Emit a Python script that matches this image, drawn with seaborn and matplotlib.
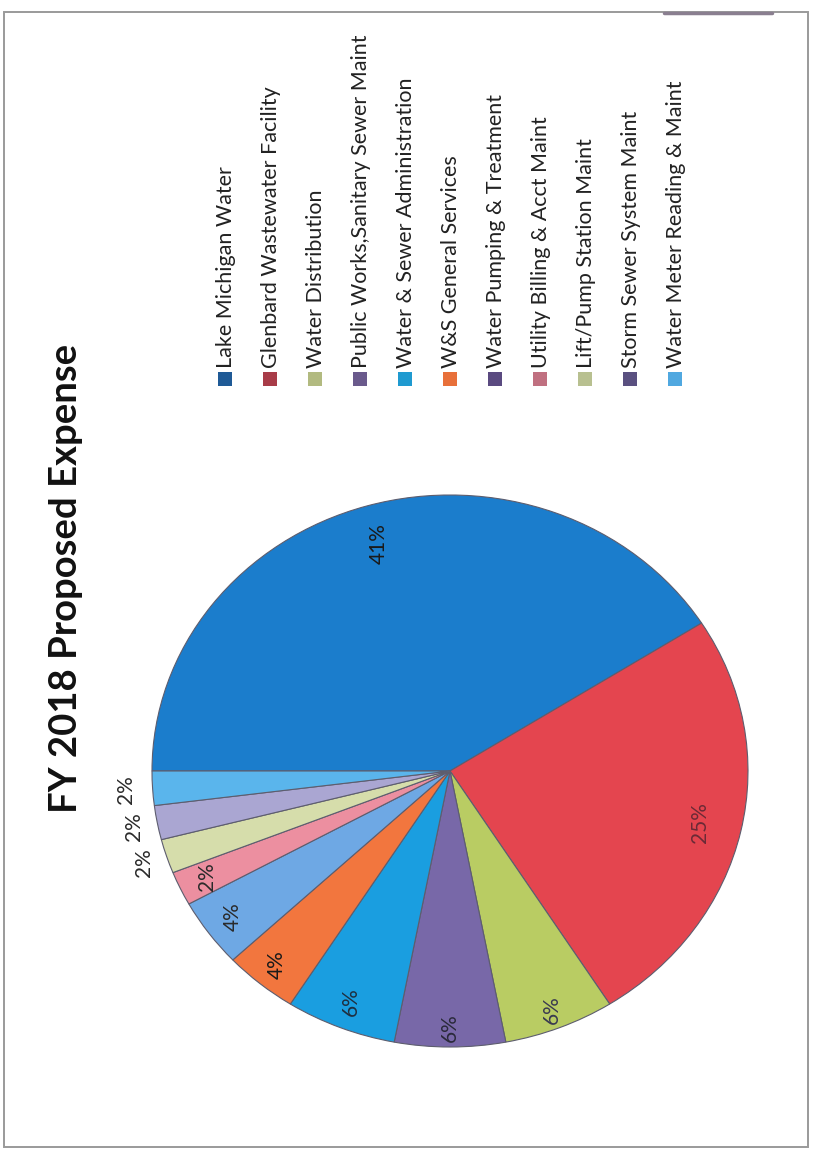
import numpy as np
import matplotlib
matplotlib.use("Agg")
import matplotlib.pyplot as plt
from matplotlib.patches import Rectangle
from matplotlib.lines import Line2D
import seaborn as sns

# ---- data -------------------------------------------------------------
title = "FY 2018 Proposed Expense"
categories = [
    "Lake Michigan Water",
    "Glenbard Wastewater Facility",
    "Water Distribution",
    "Public Works,Sanitary Sewer Maint",
    "Water & Sewer Administration",
    "W&S General Services",
    "Water Pumping & Treatment",
    "Utility Billing & Acct Maint",
    "Lift/Pump Station Maint",
    "Storm Sewer System Maint",
    "Water Meter Reading & Maint",
]
shares = [41, 25, 6, 6, 6, 4, 4, 2, 2, 2, 2]

# ---- styling ----------------------------------------------------------
slice_colors = ["#1b7dcc", "#e4454f", "#b9cc63", "#7868a8", "#1a9ee0",
                "#f2763e", "#6ea8e4", "#ec8fa0", "#d6ddab", "#aaa6d2", "#5ab5ec"]
key_colors = ["#1f5a96", "#a83c48", "#b2ba80", "#6a5a8c", "#1f9ad0",
              "#e8703a", "#5a4a80", "#c07080", "#b8c090", "#5a5080", "#50a8e0"]
label_dist = [0.86, 0.86, 0.93, 0.93, 0.90, 0.91, 0.90, 0.90, 1.08, 1.08, 1.09]
label_colors = ["#1a1a1a", "#6b2a36", "#3a3a50", "#2a2a3a", "#1f2f40",
                "#1a1a1a", "#2a2a2a", "#2a2a2a", "#2a2a2a", "#2a2a2a", "#2a2a2a"]

sns.set_theme(style="white")
plt.rcParams["font.family"] = ["Lato", "DejaVu Sans"]

W, H = 813, 1150
fig = plt.figure(figsize=(W / 100, H / 100), dpi=100)
fig.patch.set_facecolor("white")

def fx(px):
    return px / W

def fy(py):
    return 1 - py / H

# pie axes: slightly wider than tall, centred at (450, 771) px
cx, cy, rx, ry = 450, 771, 298, 276
ax = fig.add_axes([fx(cx - rx), fy(cy + ry), 2 * rx / W, 2 * ry / H])
palette = sns.color_palette(slice_colors)
wedges, _ = ax.pie(shares, colors=palette, startangle=180, counterclock=False,
                   radius=1.0, wedgeprops=dict(edgecolor="#5d5d6e", linewidth=0.8))
ax.set_aspect("auto")
ax.set_xlim(-1, 1)
ax.set_ylim(-1, 1)
ax.axis("off")

total = float(sum(shares))
for w, v, d, c in zip(wedges, shares, label_dist, label_colors):
    mid = np.deg2rad((w.theta1 + w.theta2) / 2)
    ax.text(d * np.cos(mid), d * np.sin(mid), f"{v / total * 100:.0f}%",
            rotation=90, ha="center", va="center", fontsize=15, color=c)

# title, reading bottom to top
fig.text(fx(66), fy(578), title, rotation=90, ha="center", va="center",
         fontsize=27.5, fontweight="bold", color="#111111")

# legend keys and names, stacked left to right
key_x0, key_step, key_y, key_size = 225, 45.0, 379, 14
for i, (name, kc) in enumerate(zip(categories, key_colors)):
    x = key_x0 + i * key_step
    fig.patches.append(Rectangle((fx(x - key_size / 2), fy(key_y + key_size / 2)),
                                 key_size / W, key_size / H, transform=fig.transFigure,
                                 facecolor=kc, edgecolor="none"))
    fig.text(fx(x + 1), fy(key_y - key_size / 2 - 4), name, rotation=90,
             rotation_mode="anchor", ha="left", va="center",
             fontsize=15.5, color="#222222")

# page frame
fig.patches.append(Rectangle((fx(4), fy(1147)), (808 - 4) / W, (1147 - 12) / H,
                             transform=fig.transFigure, facecolor="none",
                             edgecolor="#9a9a9a", linewidth=1.4))
fig.lines.append(Line2D([fx(664), fx(772)], [fy(13), fy(13)], transform=fig.transFigure,
                        color="#8a7f90", linewidth=2.5))

fig.savefig("out.png", dpi=100, facecolor="white")
